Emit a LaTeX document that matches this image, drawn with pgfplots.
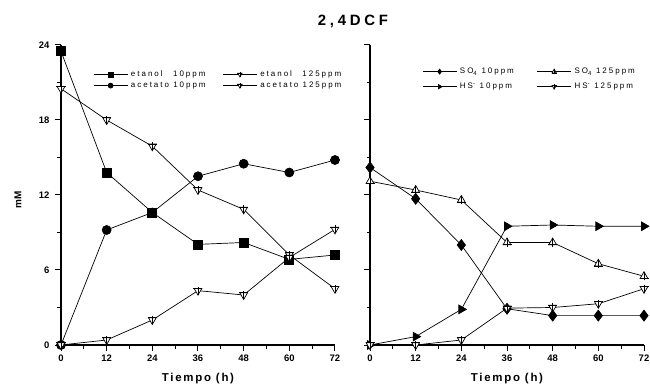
\documentclass[border=0pt]{standalone}
\usepackage{fontspec}
\setmainfont{Liberation Sans}
\newfontfamily\spfont[LetterSpace=25]{Liberation Sans}
\newfontfamily\labfont[LetterSpace=15]{Liberation Sans}
\newfontfamily\legfont[LetterSpace=25]{Liberation Sans}
\usepackage{pgfplots}
\pgfplotsset{compat=1.18}

\pgfdeclareplotmark{dtc}{%
 \pgfpathmoveto{\pgfqpoint{0pt}{-\pgfplotmarksize}}%
 \pgfpathlineto{\pgfqpoint{0.866\pgfplotmarksize}{0.5\pgfplotmarksize}}%
 \pgfpathlineto{\pgfqpoint{-0.866\pgfplotmarksize}{0.5\pgfplotmarksize}}%
 \pgfpathclose
 \pgfusepathqfillstroke
 \pgfpathmoveto{\pgfqpoint{-\pgfplotmarksize}{0.5\pgfplotmarksize}}%
 \pgfpathlineto{\pgfqpoint{\pgfplotmarksize}{0.5\pgfplotmarksize}}%
 \pgfpathmoveto{\pgfqpoint{0pt}{-0.9\pgfplotmarksize}}%
 \pgfpathlineto{\pgfqpoint{0pt}{0.9\pgfplotmarksize}}%
 \pgfusepathqstroke}
\pgfdeclareplotmark{utc}{%
 \pgfpathmoveto{\pgfqpoint{0pt}{\pgfplotmarksize}}%
 \pgfpathlineto{\pgfqpoint{0.866\pgfplotmarksize}{-0.5\pgfplotmarksize}}%
 \pgfpathlineto{\pgfqpoint{-0.866\pgfplotmarksize}{-0.5\pgfplotmarksize}}%
 \pgfpathclose
 \pgfusepathqfillstroke
 \pgfpathmoveto{\pgfqpoint{-\pgfplotmarksize}{-0.5\pgfplotmarksize}}%
 \pgfpathlineto{\pgfqpoint{\pgfplotmarksize}{-0.5\pgfplotmarksize}}%
 \pgfpathmoveto{\pgfqpoint{0pt}{-0.9\pgfplotmarksize}}%
 \pgfpathlineto{\pgfqpoint{0pt}{0.9\pgfplotmarksize}}%
 \pgfusepathqstroke}

\pgfplotsset{
  myax/.style={
    width=274bp, height=300bp, scale only axis,
    xmin=0, xmax=72, ymin=0, ymax=24,
    axis x line*=bottom, axis y line*=left,
    xtick={0,12,...,72}, ytick={0,6,...,24},
    minor x tick num=1, minor y tick num=1,
    tick align=outside, major tick length=6bp, minor tick length=3.5bp,
    axis line style={line width=1.3bp},
    tick style={line width=1bp, black},
    /pgf/number format/assume math mode=true,
    tick label style={font=\bfseries\fontsize{9.5}{11}\selectfont},
    clip=false,
    every axis plot/.append style={black, line width=0.7bp, mark size=4.5bp},
    legend columns=2,
    legend cell align=left,
    legend style={draw=none, fill=none, inner sep=0pt,
      font=\legfont\fontsize{8}{9.5}\selectfont,
      nodes={inner xsep=3bp, inner ysep=1bp}},
    legend image code/.code={%
      \draw[mark repeat=2, mark phase=2, mark size=2.5bp]
        plot coordinates {(0bp,0bp) (17bp,0bp) (34bp,0bp)};},
    xlabel={\labfont\bfseries\fontsize{11.5}{13}\selectfont Tiempo (h)},
    xlabel style={at={(axis description cs:0.5,0)}, anchor=center, yshift=-34bp},
  }
}

\begin{document}
\begin{tikzpicture}
\useasboundingbox (0bp,0bp) rectangle (650bp,387bp);

\begin{axis}[myax, at={(61bp,42bp)}, anchor=south west,
  ylabel={\bfseries\fontsize{10}{12}\selectfont mM},
  ylabel style={at={(axis description cs:-0.157,0.483)}, anchor=center},
  yticklabel style={xshift=-2bp},
  legend style={at={(axis description cs:0.117,0.918)}, anchor=north west, row sep=2bp,
    /tikz/every even column/.append style={column sep=14bp}}]
\addplot[mark=square*] coordinates {(0,23.5)(12,13.8)(24,10.6)(36,8.05)(48,8.2)(60,6.85)(72,7.2)};
\addlegendentry{etanol\hspace{10.5bp}10ppm}
\addplot[mark=dtc, mark options={fill=white}] coordinates {(0,20.5)(12,18.0)(24,15.9)(36,12.4)(48,10.85)(60,7.2)(72,4.5)};
\addlegendentry{etanol\hspace{10.5bp}125ppm}
\addplot[mark=*] coordinates {(0,0)(12,9.2)(24,10.6)(36,13.5)(48,14.5)(60,13.8)(72,14.8)};
\addlegendentry{acetato 10ppm}
\addplot[mark=dtc, mark options={fill=white}] coordinates {(0,0)(12,0.4)(24,2.0)(36,4.35)(48,4.0)(60,7.0)(72,9.25)};
\addlegendentry{acetato 125ppm}
\end{axis}

\begin{axis}[myax, at={(370bp,42bp)}, anchor=south west,
  yticklabels={},
  legend style={at={(axis description cs:0.19,0.927)}, anchor=north west, row sep=6bp,
    /tikz/every even column/.append style={column sep=20bp}}]
\addplot[mark=diamond*, mark size=5.5bp] coordinates {(0,14.2)(12,11.7)(24,8.0)(36,2.9)(48,2.35)(60,2.35)(72,2.35)};
\addlegendentry{SO\textsubscript{4} 10ppm}
\addplot[mark=utc, mark options={fill=white}] coordinates {(0,13.1)(12,12.4)(24,11.6)(36,8.2)(48,8.2)(60,6.5)(72,5.5)};
\addlegendentry{SO\textsubscript{4} 125ppm}
\addplot[mark=triangle*, mark size=5bp, mark options={rotate=-90}] coordinates {(0,0)(12,0.67)(24,2.85)(36,9.5)(48,9.6)(60,9.5)(72,9.5)};
\addlegendentry{HS\textsuperscript{-} 10ppm}
\addplot[mark=dtc, mark options={fill=white}] coordinates {(0,0)(12,0)(24,0.4)(36,2.95)(48,3.0)(60,3.3)(72,4.5)};
\addlegendentry{HS\textsuperscript{-} 125ppm}
\end{axis}

\node[font=\spfont\bfseries\fontsize{15}{17}\selectfont] at (353bp,366bp) {2,4DCF};
\end{tikzpicture}
\end{document}
